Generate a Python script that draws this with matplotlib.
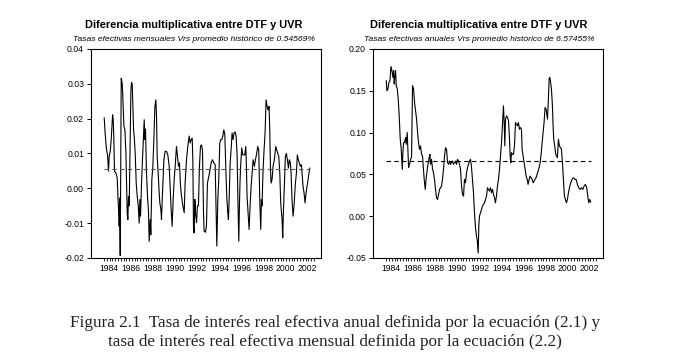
import matplotlib
matplotlib.use("Agg")
import matplotlib.pyplot as plt
import numpy as np

# ------------------------------
# Data
# months since Jan 1984, value
# ------------------------------
start_year = 1984

# monthly effective real rate (left panel)
m_mensual = [
    0.0, 1.1, 2.5, 3.6, 4.7, 5.4, 6.5, 7.6, 8.3, 9.1,
    9.8, 10.5, 11.2, 12.7, 14.1, 15.2, 15.9, 16.3, 16.7, 17.4,
    18.1, 18.5, 19.6, 20.3, 21.4, 22.5, 23.6, 24.3, 25.0, 25.7,
    26.4, 27.2, 28.3, 29.0, 29.7, 30.4, 31.2, 31.9, 32.6, 33.7,
    34.8, 35.9, 37.0, 38.0, 38.8, 39.5, 40.6, 41.3, 42.4, 43.5,
    44.2, 44.9, 46.0, 47.1, 48.2, 48.9, 50.0, 50.7, 51.8, 52.9,
    54.0, 55.1, 56.2, 56.9, 57.6, 58.7, 59.8, 60.5, 61.6, 62.3,
    63.4, 64.9, 66.3, 67.8, 69.2, 70.7, 71.7, 72.8, 73.9, 75.0,
    76.1, 77.2, 78.6, 79.7, 80.8, 81.9, 83.0, 84.1, 85.5, 87.0,
    88.0, 89.5, 90.9, 92.4, 93.5, 94.6, 95.7, 96.4, 97.1, 97.8,
    98.6, 99.3, 100.4, 101.4, 102.5, 103.6, 104.7, 105.8, 106.9, 108.0,
    108.7, 110.1, 111.2, 112.3, 113.8, 114.9, 116.3, 117.8, 119.2, 120.7,
    121.7, 122.5, 123.6, 124.6, 125.7, 126.8, 127.9, 129.0, 130.1, 131.2,
    132.2, 133.3, 134.4, 135.1, 135.9, 137.0, 138.0, 139.1, 140.2, 141.3,
    142.4, 143.5, 144.6, 145.7, 146.4, 147.1, 147.8, 148.6, 149.6, 150.7,
    151.8, 152.9, 154.0, 154.7, 155.4, 156.5, 157.6, 158.7, 159.8, 160.9,
    162.0, 163.4, 164.5, 165.6, 167.0, 168.1, 169.2, 170.3, 171.0, 171.7,
    172.8, 173.9, 175.0, 176.1, 177.2, 178.3, 179.3, 180.1, 180.8, 181.5,
    182.6, 183.7, 185.1, 186.6, 187.7, 188.8, 189.9, 191.0, 192.0, 193.5,
    194.2, 194.9, 196.0, 197.1, 198.2, 199.3, 200.4, 201.4, 202.5, 203.3,
    204.3, 205.4, 206.5, 208.0, 209.1, 210.1, 211.2, 212.3, 213.4, 214.5,
    215.2, 216.3, 217.4, 218.5, 219.6, 220.7, 221.7, 222.8, 223.6,
]
v_mensual = [
    0.0202, 0.0154, 0.0110, 0.0096, 0.0049, 0.0092, 0.0106, 0.0140, 0.0173, 0.0211,
    0.0197, 0.0140, 0.0049, 0.0044, 0.0030, -0.0042, -0.0070, -0.0109, -0.0028, -0.0193,
    0.0140, 0.0316, 0.0300, 0.0259, 0.0178, 0.0168, 0.0100, 0.0015, -0.0071, -0.0090,
    -0.0023, -0.0050, 0.0140, 0.0280, 0.0304, 0.0300, 0.0235, 0.0168, 0.0150, 0.0100,
    0.0015, -0.0023, -0.0050, -0.0100, -0.0032, -0.0080, 0.0015, 0.0063, 0.0130, 0.0197,
    0.0140, 0.0170, 0.0044, -0.0023, -0.0070, -0.0152, -0.0090, -0.0133, 0.0025, 0.0063,
    0.0140, 0.0235, 0.0254, 0.0206, 0.0092, 0.0044, -0.0013, -0.0042, -0.0060, -0.0090,
    -0.0013, 0.0082, 0.0106, 0.0106, 0.0096, 0.0063, 0.0006, -0.0060, -0.0109, -0.0032,
    0.0025, 0.0063, 0.0120, 0.0092, 0.0063, 0.0073, 0.0006, -0.0023, -0.0050, -0.0070,
    0.0015, 0.0082, 0.0120, 0.0150, 0.0130, 0.0140, 0.0144, 0.0082, -0.0109, -0.0128,
    -0.0032, -0.0070, -0.0099, -0.0050, -0.0050, 0.0063, 0.0120, 0.0125, 0.0110, -0.0070,
    -0.0123, -0.0126, -0.0109, 0.0015, 0.0034, 0.0049, 0.0073, 0.0082, 0.0073, 0.0068,
    -0.0070, -0.0166, -0.0032, 0.0025, 0.0130, 0.0140, 0.0140, 0.0150, 0.0168, 0.0154,
    0.0063, -0.0023, -0.0070, -0.0090, -0.0032, 0.0073, 0.0110, 0.0159, 0.0140, 0.0159,
    0.0162, 0.0150, 0.0092, -0.0070, -0.0152, -0.0050, 0.0025, 0.0073, 0.0116, 0.0096,
    0.0096, 0.0096, 0.0120, 0.0063, -0.0023, -0.0070, -0.0118, -0.0050, 0.0006, 0.0044,
    0.0082, 0.0063, 0.0082, 0.0096, 0.0120, 0.0110, -0.0032, -0.0118, -0.0032, -0.0050,
    0.0054, 0.0110, 0.0159, 0.0254, 0.0235, 0.0225, 0.0235, 0.0168, 0.0063, 0.0015,
    0.0025, 0.0063, 0.0082, 0.0120, 0.0110, 0.0100, 0.0092, 0.0044, -0.0042, -0.0090,
    -0.0142, -0.0070, 0.0015, 0.0092, 0.0100, 0.0082, 0.0058, 0.0082, 0.0073, 0.0044,
    -0.0032, -0.0080, -0.0050, 0.0015, 0.0044, 0.0096, 0.0082, 0.0073, 0.0063, 0.0068,
    0.0044, 0.0006, -0.0013, -0.0042, -0.0013, 0.0006, 0.0025, 0.0044, 0.0058,
]
media_mensual = 0.0054569

# annual effective real rate (right panel)
m_anual = [
    0.0, 0.7, 1.8, 2.9, 4.0, 5.1, 6.2, 7.2, 8.0, 8.7,
    9.4, 10.1, 10.9, 12.0, 13.0, 14.1, 15.2, 16.3, 17.4, 18.1,
    18.8, 19.9, 21.0, 21.7, 22.8, 23.6, 24.3, 25.4, 26.4, 27.5,
    28.6, 29.7, 30.8, 31.9, 33.0, 34.1, 35.1, 36.2, 37.3, 38.4,
    39.5, 40.2, 41.3, 42.4, 43.5, 44.6, 45.7, 46.7, 47.5, 48.2,
    49.3, 50.4, 51.4, 52.5, 53.6, 54.7, 55.8, 56.9, 58.0, 59.1,
    60.1, 61.2, 62.3, 63.4, 64.5, 65.6, 66.7, 67.8, 68.8, 69.9,
    71.0, 72.1, 73.2, 74.3, 75.4, 76.4, 77.5, 78.6, 79.7, 80.8,
    81.9, 83.0, 84.1, 85.1, 86.2, 87.3, 88.4, 89.5, 90.6, 91.7,
    92.8, 93.8, 94.9, 96.0, 97.1, 98.2, 98.9, 100.0, 100.7, 101.4,
    102.5, 103.6, 104.7, 105.8, 106.9, 108.0, 109.1, 110.1, 111.2, 112.3,
    113.4, 114.5, 115.6, 116.7, 117.8, 118.8, 119.9, 121.0, 122.1, 123.2,
    124.3, 125.4, 126.4, 127.5, 128.3, 129.0, 129.7, 130.8, 131.9, 133.0,
    134.1, 134.8, 135.5, 136.2, 137.3, 138.4, 139.5, 140.6, 141.7, 142.8,
    143.8, 144.9, 146.0, 147.1, 147.8, 148.9, 150.0, 151.1, 152.2, 153.3,
    154.3, 155.4, 156.5, 157.6, 158.7, 159.8, 160.9, 162.0, 163.0, 164.1,
    165.2, 166.3, 167.4, 168.5, 169.6, 170.7, 171.7, 172.8, 173.9, 174.6,
    175.4, 176.4, 177.2, 177.9, 178.6, 179.7, 180.8, 181.5, 182.2, 183.3,
    184.1, 185.1, 186.2, 187.3, 188.4, 189.5, 190.6, 191.7, 192.8, 193.8,
    194.9, 196.0, 197.1, 198.2, 199.3, 200.7, 202.2, 203.6, 205.1, 206.5,
    208.0, 209.4, 210.9, 212.3, 213.8, 215.2, 216.7, 218.1, 219.2, 220.3,
    221.4, 222.5,
]
v_anual = [
    0.162, 0.150, 0.152, 0.160, 0.162, 0.179, 0.174, 0.166, 0.174, 0.158,
    0.168, 0.174, 0.156, 0.152, 0.140, 0.120, 0.092, 0.080, 0.056, 0.076,
    0.088, 0.088, 0.094, 0.086, 0.100, 0.076, 0.058, 0.062, 0.068, 0.070,
    0.156, 0.152, 0.136, 0.126, 0.116, 0.100, 0.088, 0.080, 0.084, 0.074,
    0.072, 0.060, 0.044, 0.032, 0.046, 0.056, 0.064, 0.070, 0.074, 0.062,
    0.068, 0.056, 0.052, 0.044, 0.032, 0.022, 0.020, 0.026, 0.032, 0.034,
    0.036, 0.044, 0.056, 0.072, 0.082, 0.080, 0.064, 0.062, 0.066, 0.062,
    0.064, 0.066, 0.062, 0.064, 0.066, 0.062, 0.068, 0.066, 0.062, 0.056,
    0.036, 0.026, 0.024, 0.044, 0.040, 0.052, 0.058, 0.062, 0.066, 0.068,
    0.058, 0.044, 0.028, 0.004, -0.014, -0.024, -0.028, -0.044, -0.012, 0.000,
    0.004, 0.008, 0.012, 0.014, 0.016, 0.020, 0.024, 0.034, 0.032, 0.030,
    0.034, 0.028, 0.032, 0.026, 0.022, 0.016, 0.024, 0.036, 0.044, 0.056,
    0.072, 0.088, 0.108, 0.132, 0.112, 0.084, 0.116, 0.120, 0.118, 0.114,
    0.092, 0.072, 0.064, 0.076, 0.074, 0.074, 0.084, 0.112, 0.110, 0.108,
    0.112, 0.104, 0.106, 0.104, 0.080, 0.072, 0.064, 0.056, 0.048, 0.044,
    0.038, 0.044, 0.048, 0.046, 0.044, 0.040, 0.042, 0.044, 0.046, 0.050,
    0.054, 0.058, 0.064, 0.074, 0.088, 0.100, 0.112, 0.130, 0.128, 0.122,
    0.116, 0.140, 0.164, 0.166, 0.162, 0.152, 0.132, 0.108, 0.092, 0.084,
    0.076, 0.072, 0.070, 0.092, 0.084, 0.082, 0.080, 0.064, 0.044, 0.024,
    0.020, 0.016, 0.020, 0.028, 0.034, 0.040, 0.044, 0.046, 0.044, 0.044,
    0.038, 0.034, 0.032, 0.034, 0.032, 0.036, 0.038, 0.034, 0.024, 0.016,
    0.020, 0.017,
]
media_anual = 0.065745

year_labels = [str(y) for y in range(1984, 2003, 2)]

titulo = "Diferencia multiplicativa entre DTF y UVR"
sub_mensual = "Tasas efectivas mensuales Vrs promedio histórico de 0.54569%"
sub_anual = "Tasas efectivas anuales Vrs promedio histórico de 6.57455%"
caption = ("Figura 2.1  Tasa de interés real efectiva anual definida por la ecuación (2.1) y\n"
           "tasa de interés real efectiva mensual definida por la ecuación (2.2)")

# ------------------------------
# Plot
# ------------------------------
plt.rcParams['font.family'] = ['Liberation Sans', 'DejaVu Sans']

fig = plt.figure(figsize=(6.76, 3.63), dpi=100)
fig.patch.set_facecolor('white')


def panel(rect, m, v, media, ylim, yticks, dash_color, title_x, sub):
    ax = fig.add_axes(rect)
    t = start_year + np.array(m) / 12.0
    ax.plot(t, v, color='black', lw=0.8)
    ax.plot([t[0], t[-1]], [media, media], color=dash_color, lw=0.8,
            linestyle=(0, (4, 3)))
    ax.set_xlim(1982.8, 2003.65)
    ax.set_ylim(*ylim)
    ax.set_yticks(yticks)
    ax.set_yticklabels(['%.2f' % y for y in yticks])
    ax.set_xticks([y + 0.45 for y in range(1984, 2003, 2)])
    ax.set_xticklabels(year_labels)
    ax.set_xticks(np.arange(1984, 2003.01, 0.25), minor=True)
    ax.tick_params(axis='x', which='major', length=0, labelsize=6.2, pad=4)
    ax.tick_params(axis='x', which='minor', length=2.5, width=0.6)
    ax.tick_params(axis='y', which='major', length=3, width=0.7, labelsize=6.2, pad=2)
    for s in ax.spines.values():
        s.set_linewidth(0.8)
    fig.text(title_x, 0.931, titulo, ha='center', va='center',
             fontsize=7.9, fontweight='bold')
    fig.text(title_x, 0.890, sub, ha='center', va='center',
             fontsize=6.1, style='italic')
    return ax


panel([0.1346, 0.2893, 0.3402, 0.5758], m_mensual, v_mensual, media_mensual,
      (-0.02, 0.04), [-0.02, -0.01, 0.0, 0.01, 0.02, 0.03, 0.04], '#555555',
      0.287, sub_mensual)
panel([0.5518, 0.2893, 0.3402, 0.5758], m_anual, v_anual, media_anual,
      (-0.05, 0.20), [-0.05, 0.0, 0.05, 0.10, 0.15, 0.20], 'black',
      0.7086, sub_anual)

fig.text(0.495, 0.084, caption, ha='center', va='center', fontsize=12.3,
         family='Liberation Serif', linespacing=1.2, color='#222222')

fig.savefig("out.png", dpi=100, facecolor='white')
